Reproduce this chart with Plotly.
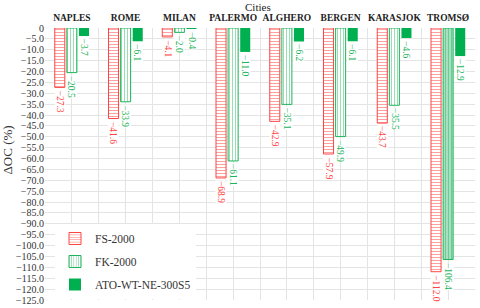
import plotly.graph_objects as go

cities = ["NAPLES", "ROME", "MILAN", "PALERMO", "ALGHERO", "BERGEN", "KARASJOK", "TROMSØ"]
fs_2000 = [-27.3, -41.6, -4.1, -68.9, -42.9, -57.9, -43.7, -112.0]
fk_2000 = [-20.5, -33.9, -2.0, -61.1, -35.1, -49.9, -35.5, -106.4]
ato = [-3.7, -6.1, -0.4, -11.0, -6.2, -6.1, -4.6, -12.9]
series_names = ["FS-2000", "FK-2000", "ATO-WT-NE-300S5"]
y_ticks = [-5 * i for i in range(26)]
y_ticktext = ["0"] + ["\u2212%.1f" % (-v) for v in y_ticks[1:]]

RED = "#ff4444"
GREEN = "#1db45a"
SOLID = "#00b050"
FONT = "Liberation Serif"
GRID = "#e4e4e4"

xs = list(range(len(cities)))
fk_bg = ["white"] * (len(cities) - 1) + ["#a9dfc1"]

fig = go.Figure()
fig.add_trace(go.Bar(
    x=xs, y=fs_2000, name=series_names[0], legendgroup="a",
    marker=dict(color="white", line=dict(color=RED, width=1),
                pattern=dict(shape="-", fgcolor=RED, bgcolor="white", size=3, solidity=0.35)),
))
fig.add_trace(go.Bar(
    x=xs, y=fk_2000, name=series_names[1], legendgroup="b",
    marker=dict(color="white", line=dict(color=GREEN, width=1),
                pattern=dict(shape="|", fgcolor=GREEN, bgcolor=fk_bg, size=3, solidity=0.3)),
))
fig.add_trace(go.Bar(
    x=xs, y=ato, name=series_names[2], legendgroup="c",
    marker=dict(color=SOLID, line=dict(color=SOLID, width=0)),
))

bargap = 0.325
groupgap = 0.17
slot = (1 - bargap) / 3
annotations = []
for k, (vals, col) in enumerate([(fs_2000, RED), (fk_2000, GREEN), (ato, GREEN)]):
    for i, v in enumerate(vals):
        annotations.append(dict(
            x=i + (k - 1) * slot, y=v, xref="x", yref="y",
            text="\u2212%.1f" % (-v), textangle=90, showarrow=False,
            xanchor="center", yanchor="top", yshift=-2,
            font=dict(family=FONT, size=9.5, color=col),
            bgcolor="white", borderpad=0,
        ))

# axis titles as annotations
annotations.append(dict(
    text="\u0394OC (%)", textangle=-90, showarrow=False,
    xref="paper", yref="paper", x=-38.5 / 430, y=(300 - 150) / 272,
    xanchor="center", yanchor="middle",
    font=dict(family=FONT, size=13, color="#333"),
))
annotations.append(dict(
    text="Cities", showarrow=False,
    xref="paper", yref="paper", x=(258 - 45) / 430, y=1 + 21 / 272,
    xanchor="center", yanchor="middle",
    font=dict(family=FONT, size=11, color="#222"),
))

fig.update_layout(
    width=480, height=308,
    margin=dict(l=45, r=5, t=28, b=8, autoexpand=False),
    paper_bgcolor="white", plot_bgcolor="white",
    barmode="group", bargap=bargap, bargroupgap=groupgap,
    font=dict(family=FONT, size=10, color="#333"),
    showlegend=True,
    legend=dict(x=10 / 430, y=(300 - 224) / 272, xanchor="left", yanchor="top",
                bgcolor="white", font=dict(family=FONT, size=11.5, color="#333"),
                traceorder="grouped", tracegroupgap=4, itemwidth=30),
    annotations=annotations,
    xaxis=dict(
        side="top", range=[-0.5, len(cities) - 0.5], automargin=False,
        tickmode="array", tickvals=xs,
        ticktext=["<b>%s</b>" % c for c in cities],
        tickfont=dict(family=FONT, size=9.5, color="#222"),
        ticklabelstandoff=4,
        showgrid=True, gridcolor=GRID, gridwidth=1,
        minor=dict(tickmode="linear", tick0=0.5, dtick=1, showgrid=True, gridcolor=GRID, gridwidth=1),
        ticks="", showline=False, zeroline=False,
    ),
    yaxis=dict(
        range=[-125, 0], tickmode="array", tickvals=y_ticks, ticktext=y_ticktext,
        automargin=False,
        tickfont=dict(family=FONT, size=10, color="#333"),
        showgrid=True, gridcolor=GRID, gridwidth=1,
        zeroline=False, showline=False, ticks="",
    ),
)

fig.write_html("out.html", config={"displayModeBar": False},
               post_script="document.body.style.margin='0';")
